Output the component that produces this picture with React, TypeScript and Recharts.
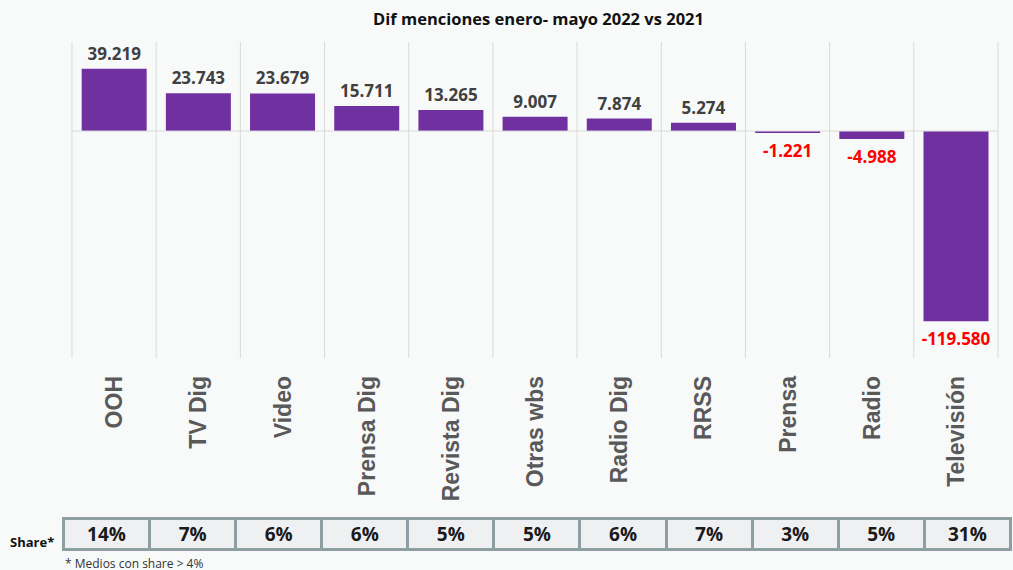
import { BarChart, Bar, XAxis, YAxis, CartesianGrid, ReferenceLine, LabelList } from "recharts";

const categories = ["OOH", "TV Dig", "Video", "Prensa Dig", "Revista Dig", "Otras wbs", "Radio Dig", "RRSS", "Prensa", "Radio", "Televisión"];
const diffValues = [39219, 23743, 23679, 15711, 13265, 9007, 7874, 5274, -1221, -4988, -119580];
const shares = ["14%", "7%", "6%", "6%", "5%", "5%", "6%", "7%", "3%", "5%", "31%"];

const data = categories.map((name, i) => ({ name, diff: diffValues[i] }));

const fmt = (v: number) => (v < 0 ? "-" : "") + String(Math.abs(v)).replace(/\B(?=(\d{3})+(?!\d))/g, ".");

const font = "'Open Sans', sans-serif";

function ValueLabel(props: any) {
  const { x, y, width, height, value } = props;
  const top = Math.min(y, y + height);
  const bottom = Math.max(y, y + height);
  const neg = value < 0;
  return (
    <text
      x={x + width / 2}
      y={neg ? bottom + 24 : top - 9}
      textAnchor="middle"
      fontFamily={font}
      fontWeight={700}
      fontSize={17}
      fill={neg ? "#FF0000" : "#404040"}
    >
      {fmt(value)}
    </text>
  );
}

function CatTick(props: any) {
  const { x, y, payload } = props;
  return (
    <text
      transform={`translate(${x}, ${y + 10}) rotate(-90)`}
      textAnchor="end"
      dy="0.35em"
      fontFamily="'Liberation Sans', Arial, sans-serif"
      fontWeight={700}
      fontSize={23}
      fill="#595959"
    >
      {payload.value}
    </text>
  );
}

export default function App() {
  return (
    <div style={{ position: "absolute", left: 0, top: 0, width: 1013, height: 570, background: "#F8FAFA", fontFamily: font }}>
      <div style={{ position: "absolute", top: 7, left: 0, width: 1077, textAlign: "center", fontSize: 16.5, fontWeight: 700, color: "#111" }}>
        Dif menciones enero- mayo 2022 vs 2021
      </div>
      <BarChart
        width={1013}
        height={500}
        data={data}
        margin={{ top: 42, right: 15, left: 72, bottom: 0 }}
        barCategoryGap="11.5%"
      >
        <CartesianGrid
          horizontal={false}
          stroke="#D9D9D9"
          verticalCoordinatesGenerator={({ offset }: any) =>
            categories.concat([""]).map((_, i) => offset.left + (i * offset.width) / categories.length)
          }
        />
        <XAxis dataKey="name" axisLine={false} tickLine={false} interval={0} height={142} tick={<CatTick />} />
        <YAxis hide domain={[-142700, 56000]} />
        <ReferenceLine y={0} stroke="#D9D9D9" />
        <Bar dataKey="diff" fill="#7030A0" isAnimationActive={false}>
          <LabelList dataKey="diff" content={<ValueLabel />} />
        </Bar>
      </BarChart>
      <div style={{ position: "absolute", left: 10, top: 533, fontSize: 13, fontWeight: 700, color: "#111" }}>Share*</div>
      <table
        style={{
          position: "absolute",
          left: 62,
          top: 517,
          width: 950,
          height: 34,
          borderCollapse: "collapse",
          tableLayout: "fixed",
          background: "#EFF0F2",
        }}
      >
        <tbody>
          <tr>
            {shares.map((s, i) => (
              <td
                key={i}
                style={{
                  border: "3px solid #8E9FA3",
                  textAlign: "center",
                  fontSize: 19,
                  fontWeight: 700,
                  color: "#1A1A1A",
                  padding: 0,
                  lineHeight: "28px",
                }}
              >
                {s}
              </td>
            ))}
          </tr>
        </tbody>
      </table>
      <div style={{ position: "absolute", left: 65, top: 555, fontSize: 12, color: "#333" }}>* Medios con share &gt; 4%</div>
    </div>
  );
}
